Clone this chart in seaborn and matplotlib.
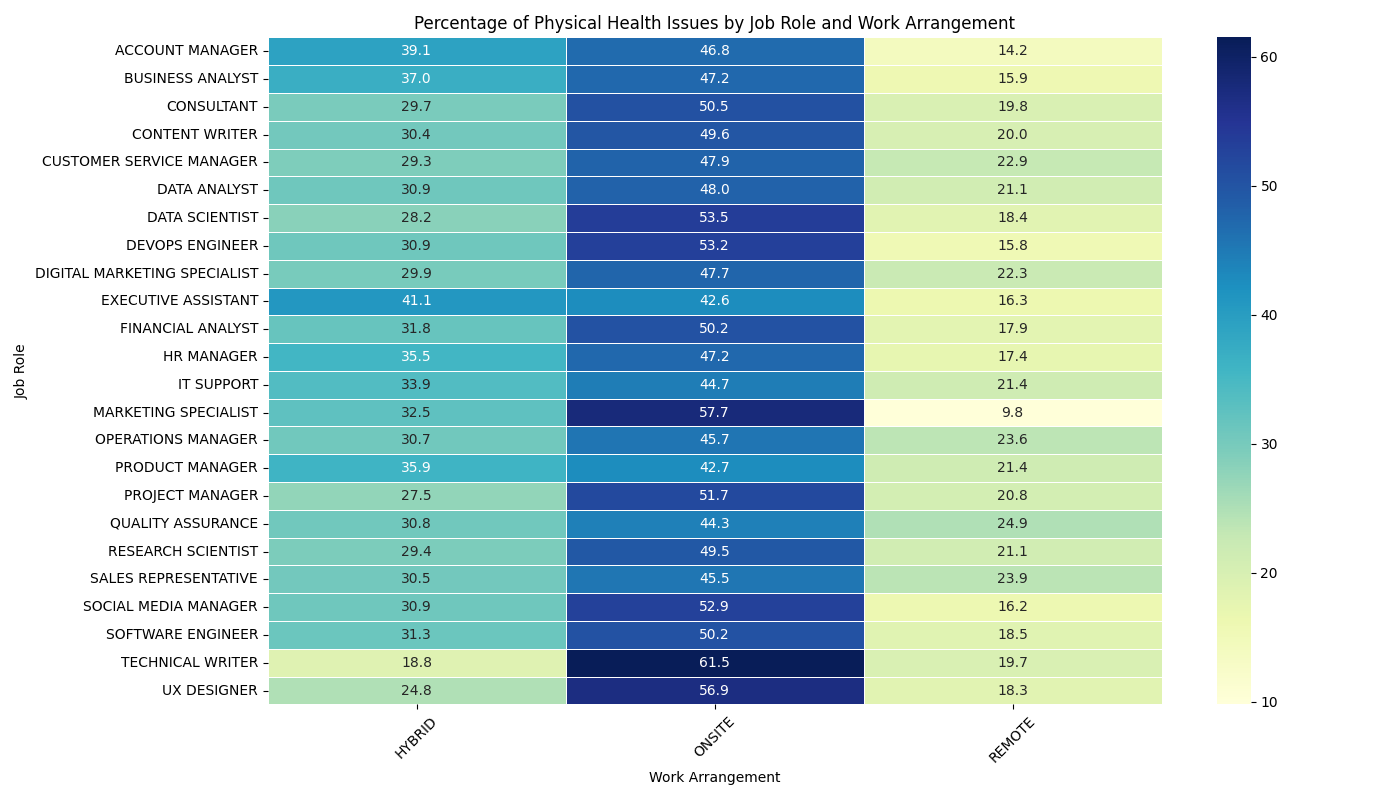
import seaborn as sns
import matplotlib
matplotlib.use("Agg")
import matplotlib.pyplot as plt
import pandas as pd

roles = ["ACCOUNT MANAGER", "BUSINESS ANALYST", "CONSULTANT", "CONTENT WRITER",
         "CUSTOMER SERVICE MANAGER", "DATA ANALYST", "DATA SCIENTIST", "DEVOPS ENGINEER",
         "DIGITAL MARKETING SPECIALIST", "EXECUTIVE ASSISTANT", "FINANCIAL ANALYST",
         "HR MANAGER", "IT SUPPORT", "MARKETING SPECIALIST", "OPERATIONS MANAGER",
         "PRODUCT MANAGER", "PROJECT MANAGER", "QUALITY ASSURANCE", "RESEARCH SCIENTIST",
         "SALES REPRESENTATIVE", "SOCIAL MEDIA MANAGER", "SOFTWARE ENGINEER",
         "TECHNICAL WRITER", "UX DESIGNER"]
arrangements = ["HYBRID", "ONSITE", "REMOTE"]

hybrid = [39.1, 37.0, 29.7, 30.4, 29.3, 30.9, 28.2, 30.9, 29.9, 41.1, 31.8, 35.5,
          33.9, 32.5, 30.7, 35.9, 27.5, 30.8, 29.4, 30.5, 30.9, 31.3, 18.8, 24.8]
onsite = [46.8, 47.2, 50.5, 49.6, 47.9, 48.0, 53.5, 53.2, 47.7, 42.6, 50.2, 47.2,
          44.7, 57.7, 45.7, 42.7, 51.7, 44.3, 49.5, 45.5, 52.9, 50.2, 61.5, 56.9]
remote = [14.2, 15.9, 19.8, 20.0, 22.9, 21.1, 18.4, 15.8, 22.3, 16.3, 17.9, 17.4,
          21.4, 9.8, 23.6, 21.4, 20.8, 24.9, 21.1, 23.9, 16.2, 18.5, 19.7, 18.3]

df = pd.DataFrame({"HYBRID": hybrid, "ONSITE": onsite, "REMOTE": remote}, index=roles)
df.index.name = "Job Role"
df.columns.name = "Work Arrangement"

plt.figure(figsize=(14, 8), dpi=100)
sns.heatmap(df, annot=True, fmt=".1f", cmap="YlGnBu", linewidths=0.5, linecolor="white")
plt.title("Percentage of Physical Health Issues by Job Role and Work Arrangement")
plt.xlabel("Work Arrangement")
plt.ylabel("Job Role")
plt.xticks(rotation=45)
plt.yticks(rotation=0)
plt.tight_layout()
plt.savefig("out.png")
